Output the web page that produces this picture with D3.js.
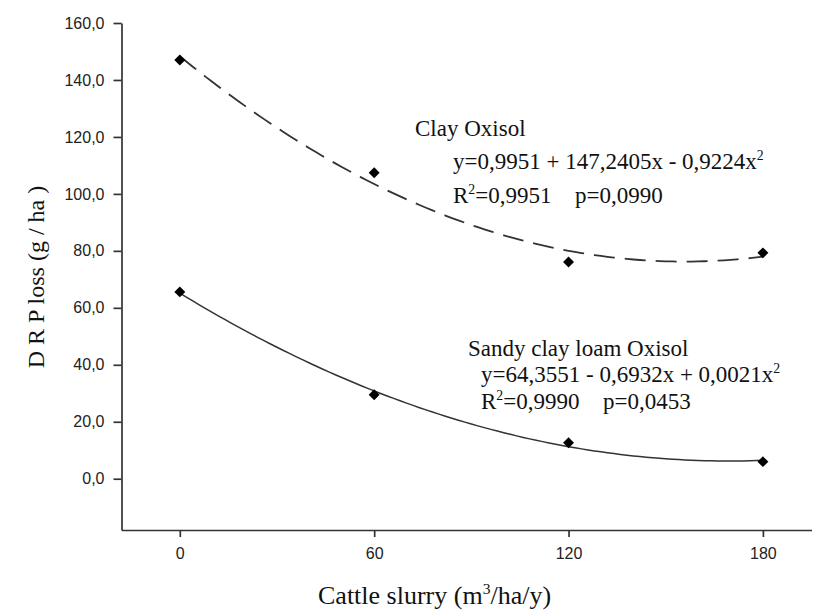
<!DOCTYPE html>
<html>
<head>
<meta charset="UTF-8">
<title>DRP loss</title>
<script src="https://d3js.org/d3.v7.min.js"></script>
<style>
  body {margin: 0; background: #fff;}
  .axis text {font-family: "Liberation Sans", Arial, sans-serif; font-size: 16px; fill: #222;}
  .axis path, .axis line {stroke: #333; stroke-width: 1.7px;}
  .lbl {font-family: "Liberation Serif", "Times New Roman", serif; fill: #111;}
</style>
</head>
<body>
<div id="chart"></div>
<script>
// values
var doses = [0, 60, 120, 180];
var clayValues = [147.0, 107.4, 76.1, 79.3];
var sandyValues = [65.6, 29.5, 12.6, 6.0];
var yTicks = [0, 20, 40, 60, 80, 100, 120, 140, 160];
var xTicks = [0, 60, 120, 180];

var width = 819, height = 610;

var svg = d3.select("#chart").append("svg")
    .attr("width", width)
    .attr("height", height);

var x = d3.scaleLinear().domain([-18, 195]).range([121.5, 811.5]);
var y = d3.scaleLinear().domain([-18, 160]).range([530, 23]);

var comma = function(d) { return d3.format(".1f")(d).replace(".", ","); };

svg.append("g")
    .attr("class", "axis")
    .attr("transform", "translate(" + x.range()[0] + ",0)")
    .call(d3.axisLeft(y).tickValues(yTicks).tickFormat(comma).tickSize(8).tickSizeOuter(0).tickPadding(9));

svg.append("g")
    .attr("class", "axis")
    .attr("transform", "translate(0," + y.range()[0] + ")")
    .call(d3.axisBottom(x).tickValues(xTicks).tickSize(7).tickSizeOuter(0).tickPadding(11));

// quadratic least squares fit, like the spreadsheet trendline
function quadFit(xs, ys) {
  var n = xs.length, s = [0,0,0,0,0], t = [0,0,0];
  for (var i = 0; i < n; i++) {
    for (var k = 0; k < 5; k++) s[k] += Math.pow(xs[i], k);
    for (var k = 0; k < 3; k++) t[k] += ys[i] * Math.pow(xs[i], k);
  }
  var m = [[s[0], s[1], s[2], t[0]], [s[1], s[2], s[3], t[1]], [s[2], s[3], s[4], t[2]]];
  for (var c = 0; c < 3; c++) {
    for (var r = c + 1; r < 3; r++) {
      var f = m[r][c] / m[c][c];
      for (var k = c; k < 4; k++) m[r][k] -= f * m[c][k];
    }
  }
  var b = [0,0,0];
  for (var r = 2; r >= 0; r--) {
    var v = m[r][3];
    for (var k = r + 1; k < 3; k++) v -= m[r][k] * b[k];
    b[r] = v / m[r][r];
  }
  return function(v) { return b[0] + b[1]*v + b[2]*v*v; };
}

var line = d3.line().x(function(d) { return x(d[0]); }).y(function(d) { return y(d[1]); });
var steps = d3.range(0, 180.01, 2);

var clayFit = quadFit(doses, clayValues);
var sandyFit = quadFit(doses, sandyValues);

svg.append("path")
    .datum(steps.map(function(v) { return [v, clayFit(v)]; }))
    .attr("d", line)
    .attr("fill", "none")
    .attr("stroke", "#333")
    .attr("stroke-width", 1.8)
    .attr("stroke-dasharray", "21,10");

svg.append("path")
    .datum(steps.map(function(v) { return [v, sandyFit(v)]; }))
    .attr("d", line)
    .attr("fill", "none")
    .attr("stroke", "#333")
    .attr("stroke-width", 1.5);

var diamond = d3.symbol().type(d3.symbolSquare).size(60);

[clayValues, sandyValues].forEach(function(vals) {
  svg.append("g").selectAll("path")
      .data(vals)
      .enter().append("path")
      .attr("d", diamond)
      .attr("fill", "#000")
      .attr("transform", function(d, i) { return "translate(" + x(doses[i]) + "," + y(d) + ") rotate(45)"; });
});

// annotations; parts are plain strings or ["sup", text]
function addText(tx, ty, size, parts) {
  var t = svg.append("text").attr("class", "lbl").attr("x", tx).attr("y", ty).attr("font-size", size);
  var shift = 0;
  parts.forEach(function(p) {
    if (Array.isArray(p)) {
      shift = size * 0.4;
      t.append("tspan").attr("dy", -shift).attr("font-size", size * 0.6).text(p[1]);
    } else {
      t.append("tspan").attr("dy", shift).text(p);
      shift = 0;
    }
  });
  return t;
}

addText(415, 136, 23, ["Clay Oxisol"]);
addText(453, 169, 23, ["y=0,9951 + 147,2405x - 0,9224x", ["sup", "2"]]);
addText(453, 203, 23, ["R", ["sup", "2"], "=0,9951"]);
addText(575, 203, 23, ["p=0,0990"]);

addText(468, 356, 23, ["Sandy clay loam Oxisol"]);
addText(481, 382, 23, ["y=64,3551 - 0,6932x + 0,0021x", ["sup", "2"]]);
addText(481, 409, 23, ["R", ["sup", "2"], "=0,9990"]);
addText(603, 409, 23, ["p=0,0453"]);

// axis titles
svg.append("text").attr("class", "lbl")
    .attr("transform", "translate(44,277) rotate(-90)")
    .attr("text-anchor", "middle")
    .attr("font-size", 24)
    .text("D R P  loss (g / ha )");

addText(318, 604, 26, ["Cattle slurry (m", ["sup", "3"], "/ha/y)"]);
</script>
</body>
</html>
